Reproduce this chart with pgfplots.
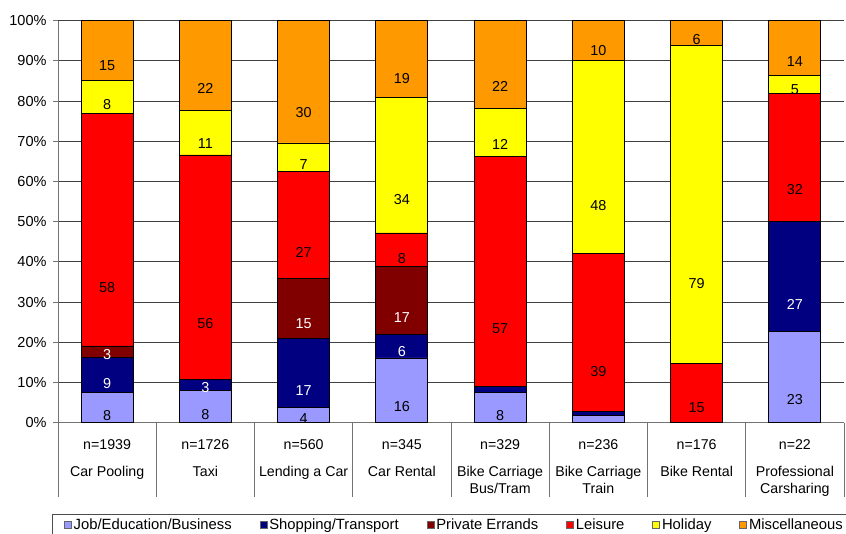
\documentclass[border=0pt]{standalone}
\usepackage{fontspec}
\setmainfont{Liberation Sans}
\usepackage{pgfplots}
\usepackage{pgfplotstable}
\pgfplotsset{compat=1.18}

\definecolor{cJob}{HTML}{9999FF}
\definecolor{cShop}{HTML}{000080}
\definecolor{cPriv}{HTML}{800000}
\definecolor{cLeis}{HTML}{FF0000}
\definecolor{cHol}{HTML}{FFFF00}
\definecolor{cMisc}{HTML}{FF9900}

% share of trip purposes (%) for each mobility service
\pgfplotstableread{
x job  shop priv leis hol  misc
0 7.6  8.7  2.8  57.9 8.2  14.8
1 8.0  2.7  0    55.9 11.0 22.4
2 3.7  17.2 14.9 26.6 7.2  30.4
3 16.1 5.9  16.8 8.4  33.6 19.2
4 7.6  1.5  0    57.1 11.9 21.9
5 1.7  1.2  0    39.1 48.2 9.8
6 0    0    0    14.8 79.0 6.2
7 22.7 27.3 0    31.8 4.6  13.6
}\shares

\pgfplotsset{
  seg/.style={fill=#1, draw=black, line width=0.8pt,
    legend image code/.code={\draw[fill=#1,draw=black!60,line width=0.6pt] (0pt,-3.5pt) rectangle (7pt,3.5pt);}},
}

\begin{document}
\begin{tikzpicture}
\useasboundingbox (0,0) rectangle (846pt,534pt);
\begin{axis}[
  at={(58pt,111.3pt)}, anchor=south west,
  scale only axis, width=786pt, height=402pt,
  ybar stacked, bar width=52pt,
  xmin=-0.5, xmax=7.5, ymin=0, ymax=100,
  ytick={0,10,...,100},
  yticklabel={\pgfmathprintnumber[assume math mode=true]{\tick}\%},
  yticklabel style={font=\fontsize{14.5}{16}\selectfont, xshift=-3pt},
  ymajorgrids, grid style={black!75, line width=0.8pt},
  axis lines*=left, axis line style={-, draw=black!55, line width=0.8pt},
  tick align=outside, major tick length=5pt, minor tick length=74pt,
  major y tick style={draw=black!55, line width=0.8pt},
  major x tick style={draw=none},
  minor x tick style={draw=black!55, line width=0.8pt},
  xtick={0,...,7},
  minor xtick={-0.5,0.5,...,7.5},
  xticklabels={
    {n=1939\\[9.7pt]Car Pooling},
    {n=1726\\[9.7pt]Taxi},
    {n=560\\[9.7pt]Lending a Car},
    {n=345\\[9.7pt]Car Rental},
    {n=329\\[9.7pt]Bike Carriage\\Bus/Tram},
    {n=236\\[9.7pt]Bike Carriage\\Train},
    {n=176\\[9.7pt]Bike Rental},
    {n=22\\[9.7pt]Professional\\Carsharing}},
  xticklabel style={align=center, font=\fontsize{14.2}{17.3}\selectfont, yshift=-8pt},
  visualization depends on={rawy \as \rawy},
  nodes near coords={\pgfmathtruncatemacro\shown{\rawy>2}\ifnum\shown=1 \pgfmathprintnumber[fixed,precision=0,assume math mode=true]{\rawy}\fi},
  every node near coord/.append style={anchor=center, yshift={-1.005*\rawy},
    font=\fontsize{14.4}{16}\selectfont, text=black},
  legend columns=6,
  legend style={at={(-0.008,-0.2271)}, anchor=north west,
    draw=black!70, line width=0.8pt, inner xsep=12pt,
    font=\fontsize{14.8}{17}\selectfont,
    /tikz/every even column/.append style={column sep=26pt}},
]
\addplot[seg=cJob] table[x=x,y=job]{\shares};
\addlegendentry{Job/Education/Business}
\addplot[seg=cShop, every node near coord/.append style={text=white}] table[x=x,y=shop]{\shares};
\addlegendentry{Shopping/Transport}
\addplot[seg=cPriv, every node near coord/.append style={text=white}] table[x=x,y=priv]{\shares};
\addlegendentry{Private Errands}
\addplot[seg=cLeis] table[x=x,y=leis]{\shares};
\addlegendentry{Leisure}
\addplot[seg=cHol] table[x=x,y=hol]{\shares};
\addlegendentry{Holiday}
\addplot[seg=cMisc] table[x=x,y=misc]{\shares};
\addlegendentry{Miscellaneous}
\end{axis}
\end{tikzpicture}
\end{document}
